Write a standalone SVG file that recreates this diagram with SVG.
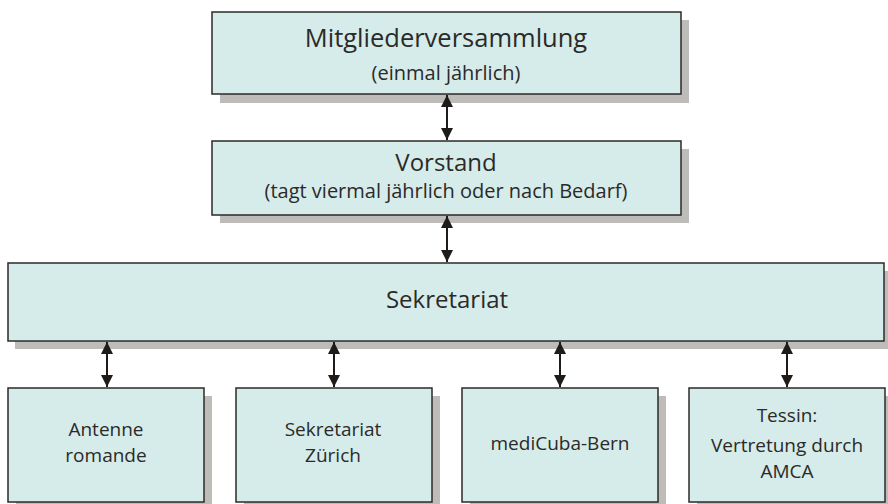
<svg xmlns="http://www.w3.org/2000/svg" width="888" height="504" viewBox="0 0 888 504">
<style>
.shadow{fill:#bdbcb8}
.box{fill:#d6ecea;stroke:#2b2a28;stroke-width:1.5}
text{font-family:"Open Sans","Noto Sans",sans-serif;fill:#2b2a28;text-anchor:middle}
.big{font-size:24px}
.sub{font-size:20px}
.sm{font-size:19px}
.conn{stroke:#1e1b18;stroke-width:2;fill:none;marker-start:url(#ah);marker-end:url(#ah)}
</style>
<defs>
<marker id="ah" viewBox="0 0 12 12" refX="12" refY="6" markerWidth="12" markerHeight="12" markerUnits="userSpaceOnUse" orient="auto-start-reverse">
<path d="M0,0 L12,6 L0,12 Z" fill="#1e1b18"/>
</marker>
</defs>
<rect width="888" height="504" fill="#fff"/>
<g id="n-mitglieder">
<rect class="shadow" x="220" y="20" width="469" height="83"/>
<rect class="box" x="212" y="12" width="469" height="82"/>
<text class="big" x="446" y="47" style="font-size:25.5px">Mitgliederversammlung</text>
<text class="sub" x="446" y="80">(einmal jährlich)</text>
</g>
<g id="n-vorstand">
<rect class="shadow" x="220" y="149" width="469" height="74"/>
<rect class="box" x="212" y="141" width="469" height="74"/>
<text class="big" x="446" y="171">Vorstand</text>
<text class="sub" x="446" y="198">(tagt viermal jährlich oder nach Bedarf)</text>
</g>
<g id="n-sekretariat">
<rect class="shadow" x="15" y="271" width="876" height="78"/>
<rect class="box" x="8" y="263" width="876" height="78"/>
<text class="big" x="447" y="308">Sekretariat</text>
</g>
<g id="n-antenne">
<rect class="shadow" x="16" y="396" width="196" height="114"/>
<rect class="box" x="8" y="388" width="196" height="114"/>
<text class="sm" x="106" y="436">Antenne</text>
<text class="sm" x="106" y="462">romande</text>
</g>
<g id="n-zuerich">
<rect class="shadow" x="244" y="396" width="196" height="114"/>
<rect class="box" x="236" y="388" width="196" height="114"/>
<text class="sm" x="333" y="436">Sekretariat</text>
<text class="sm" x="333" y="462">Zürich</text>
</g>
<g id="n-medicuba">
<rect class="shadow" x="470" y="396" width="196" height="114"/>
<rect class="box" x="462" y="388" width="196" height="114"/>
<text class="sm" x="560" y="450">mediCuba-Bern</text>
</g>
<g id="n-tessin">
<rect class="shadow" x="697" y="396" width="196" height="114"/>
<rect class="box" x="689" y="388" width="196" height="114"/>
<text class="sm" x="787" y="422">Tessin:</text>
<text class="sm" x="787" y="452">Vertretung durch</text>
<text class="sm" x="787" y="478">AMCA</text>
</g>
<g id="connectors">
<line class="conn" x1="447" y1="95" x2="447" y2="140"/>
<line class="conn" x1="447" y1="216" x2="447" y2="262"/>
<line class="conn" x1="107" y1="342" x2="107" y2="387"/>
<line class="conn" x1="334" y1="342" x2="334" y2="387"/>
<line class="conn" x1="560" y1="342" x2="560" y2="387"/>
<line class="conn" x1="787" y1="342" x2="787" y2="387"/>
</g>
</svg>
